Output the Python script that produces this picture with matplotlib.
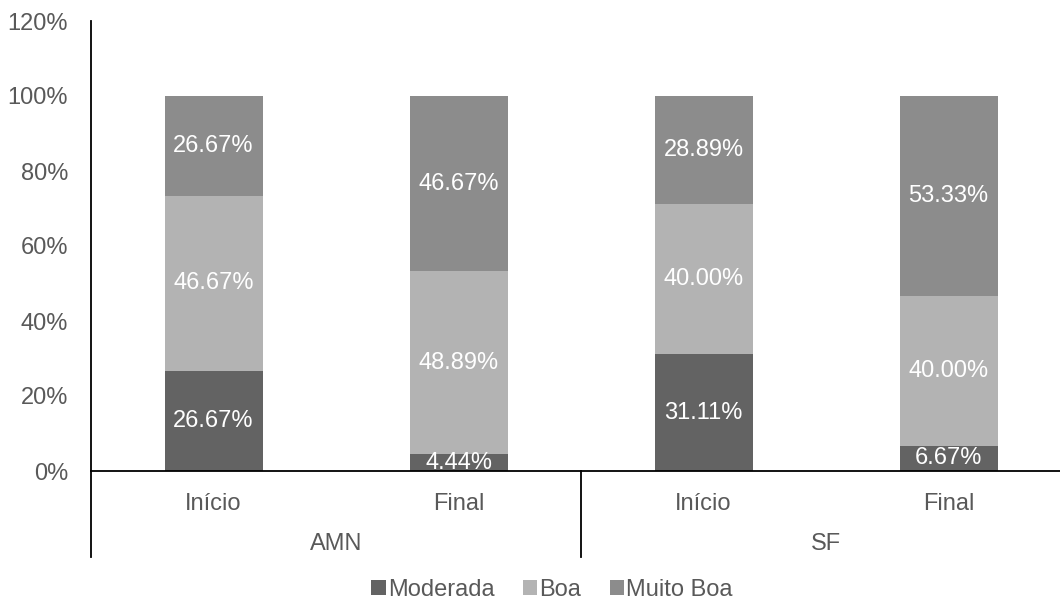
import matplotlib.pyplot as plt
import numpy as np

plt.rcParams['font.family'] = ['Liberation Sans', 'DejaVu Sans']

stages = ['Início', 'Final', 'Início', 'Final']
groups = ['AMN', 'SF']
series = ['Moderada', 'Boa', 'Muito Boa']
moderada = [26.67, 4.44, 31.11, 6.67]
boa = [46.67, 48.89, 40.00, 40.00]
muito_boa = [26.67, 46.67, 28.89, 53.33]

colors = ['#636363', '#b3b3b3', '#8c8c8c']
txt = '#595959'
fs = 17

fig = plt.figure(figsize=(10.6, 6.03), dpi=100)
ax = fig.add_axes([91/1060, 132/603, 980/1060, 450/603])

x = np.arange(len(stages))
bottom = np.zeros(len(stages))
for name, vals, c in zip(series, [moderada, boa, muito_boa], colors):
    vals = np.array(vals)
    ax.bar(x, vals, 0.4, bottom=bottom, color=c, label=name, zorder=2)
    for xi, b, v in zip(x, bottom, vals):
        ax.text(xi, b + v / 2, f'{v:.2f}%', ha='center', va='center',
                color='white', fontsize=fs, zorder=3)
    bottom += vals

ax.set_xlim(-0.5, 3.5)
ax.set_ylim(0, 120)
ax.set_yticks(range(0, 121, 20))
ax.set_yticklabels([f'{v}%' for v in range(0, 121, 20)])
ax.tick_params(axis='y', length=0, pad=16.5, labelsize=fs, colors=txt)
ax.set_xticks(x)
ax.set_xticklabels(stages)
ax.tick_params(axis='x', length=0, pad=15.5, labelsize=fs, colors=txt)
for s in ['top', 'right']:
    ax.spines[s].set_visible(False)
for s in ['left', 'bottom']:
    ax.spines[s].set_color('black')
    ax.spines[s].set_linewidth(1.3)

# group separators below the axis
ylow = -0.19
ax.plot([0, 0], [0, ylow], transform=ax.transAxes, color='black', lw=1.3, clip_on=False)
ax.plot([0.5, 0.5], [0, ylow], transform=ax.transAxes, color='black', lw=1.3, clip_on=False)
for i, g in enumerate(groups):
    ax.text(0.25 + 0.5 * i, -0.162, g, transform=ax.transAxes, ha='center', va='center',
            fontsize=fs, color=txt)

fig.legend(loc='center', bbox_to_anchor=(552/1060, 1 - 590/603), ncol=3, frameon=False,
           fontsize=fs, handlelength=0.6, handleheight=0.6, handletextpad=0.1,
           columnspacing=1.2, labelcolor=txt)

fig.savefig('out.png', dpi=100)
